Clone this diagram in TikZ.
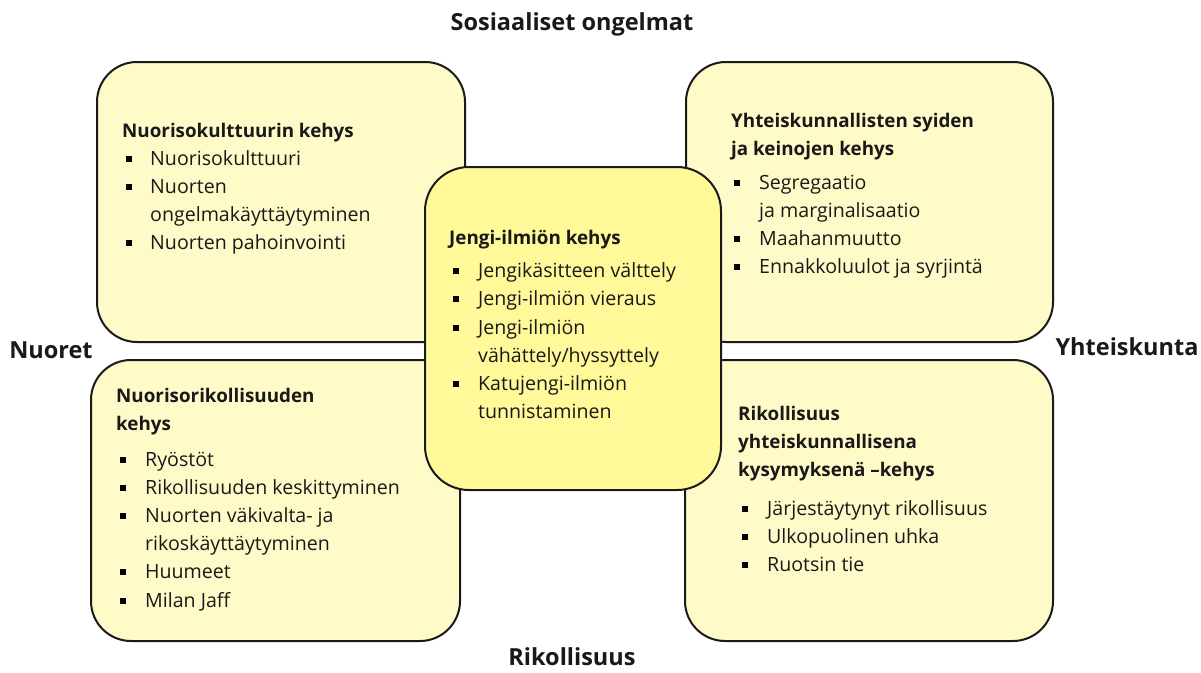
\documentclass[tikz,border=0pt]{standalone}
\usepackage{fontspec}
\setmainfont{Open Sans}
\definecolor{outerfill}{HTML}{FFFBC8}
\definecolor{innerfill}{HTML}{FFF99A}
\definecolor{edge}{HTML}{1A1A1A}
\newcommand\bitem[5]{\node[bul] (#1b) at (#2,#4-6) {}; \node[itm] (#1) at (#3,#4) {#5};}
\begin{document}
\begin{tikzpicture}[x=1pt,y=-1pt,
  box/.style={draw=edge, line width=2pt, rounded corners=40pt},
  ttl/.style={anchor=base west, inner sep=0pt, font=\fontsize{18.8}{22}\selectfont\bfseries, text=black!90},
  itm/.style={anchor=base west, inner sep=0pt, font=\fontsize{19.6}{22}\selectfont, text=black!90},
  bul/.style={fill=black, inner sep=0pt, minimum size=6.5pt, draw=none},
  axis/.style={inner sep=0pt, font=\fontsize{23.5}{26}\selectfont\bfseries, text=black!90}]
\useasboundingbox (0,0) rectangle (1201,672);
\fill[white] (0,0) rectangle (1201,672);
% outer boxes
\draw[box, fill=outerfill] (97,62) rectangle (465,342);
\draw[box, fill=outerfill] (686,62) rectangle (1053,342);
\draw[box, fill=outerfill] (91,360) rectangle (460,641);
\draw[box, fill=outerfill] (685,360) rectangle (1053,641);
% centre box
\draw[box, fill=innerfill, rounded corners=44pt] (425,167) rectangle (721,490);
% axis labels
\node[axis] (top) at (572,24) {Sosiaaliset ongelmat};
\node[axis] (left) at (51,350) {Nuoret};
\node[axis] (right) at (1127,347) {Yhteiskunta};
\node[axis, anchor=base] (bottom) at (572,665) {Rikollisuus};
% top-left
\node[ttl] (tlt) at (122,137) {Nuorisokulttuurin kehys};
\bitem{tl1}{129}{150}{165}{Nuorisokulttuuri}
\bitem{tl2}{129}{150}{193}{Nuorten}
\node[itm] (tl2c) at (150,221) {ongelmakäyttäytyminen};
\bitem{tl3}{129}{150}{249}{Nuorten pahoinvointi}
% centre
\node[ttl] (ct) at (449,244) {Jengi-ilmiön kehys};
\bitem{c1}{456}{478}{277}{Jengikäsitteen välttely}
\bitem{c2}{456}{478}{305}{Jengi-ilmiön vieraus}
\bitem{c3}{456}{478}{334}{Jengi-ilmiön}
\node[itm] (c3c) at (478,362) {vähättely/hyssyttely};
\bitem{c4}{456}{478}{390}{Katujengi-ilmiön}
\node[itm] (c4c) at (478,418) {tunnistaminen};
% top-right
\node[ttl] (trt1) at (731,127) {Yhteiskunnallisten syiden};
\node[ttl] (trt2) at (731,155) {ja keinojen kehys};
\bitem{tr1}{737}{759}{189}{Segregaatio}
\node[itm] (tr1c) at (759,217) {ja marginalisaatio};
\bitem{tr2}{737}{759}{245}{Maahanmuutto}
\bitem{tr3}{737}{759}{273}{Ennakkoluulot ja syrjintä}
% bottom-left
\node[ttl] (blt1) at (116,402) {Nuorisorikollisuuden};
\node[ttl] (blt2) at (116,430) {kehys};
\bitem{bl1}{123}{145}{466}{Ryöstöt}
\bitem{bl2}{123}{145}{494}{Rikollisuuden keskittyminen}
\bitem{bl3}{123}{145}{522}{Nuorten väkivalta- ja}
\node[itm] (bl3c) at (145,550) {rikoskäyttäytyminen};
\bitem{bl4}{123}{145}{578}{Huumeet}
\bitem{bl5}{123}{145}{607}{Milan Jaff}
% bottom-right
\node[ttl] (brt1) at (738,420) {Rikollisuus};
\node[ttl] (brt2) at (738,448) {yhteiskunnallisena};
\node[ttl] (brt3) at (738,476) {kysymyksenä –kehys};
\bitem{br1}{745}{767}{515}{Järjestäytynyt rikollisuus}
\bitem{br2}{745}{767}{543}{Ulkopuolinen uhka}
\bitem{br3}{745}{767}{571}{Ruotsin tie}
\end{tikzpicture}
\end{document}
